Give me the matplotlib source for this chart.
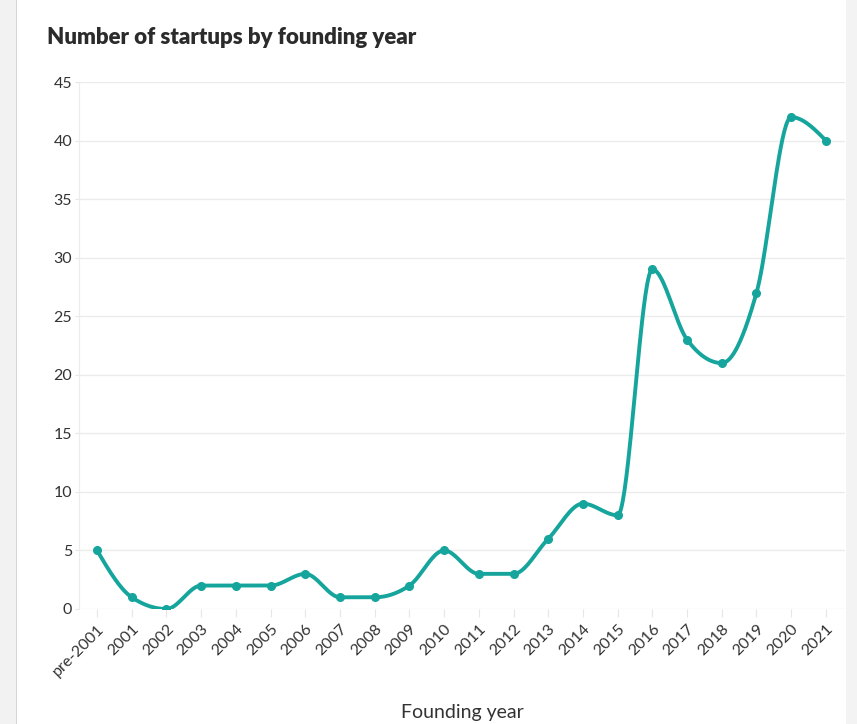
import numpy as np
import matplotlib
matplotlib.use("Agg")
import matplotlib.pyplot as plt
from matplotlib.patches import Rectangle

years = ["pre-2001", "2001", "2002", "2003", "2004", "2005", "2006", "2007",
         "2008", "2009", "2010", "2011", "2012", "2013", "2014", "2015",
         "2016", "2017", "2018", "2019", "2020", "2021"]
startups = [5, 1, 0, 2, 2, 2, 3, 1, 1, 2, 5, 3, 3, 6, 9, 8, 29, 23, 21, 27, 42, 40]
y_ticks = [0, 5, 10, 15, 20, 25, 30, 35, 40, 45]

LINE = "#16a59c"
TEXT = "#333333"


def monotone_curve(x, y, n=40):
    """Steffen-style monotone cubic (like d3.curveMonotoneX)."""
    x = np.asarray(x, dtype=float)
    y = np.asarray(y, dtype=float)
    h = np.diff(x)
    s = np.diff(y) / h
    m = np.zeros_like(y)
    for i in range(1, len(y) - 1):
        p = (s[i - 1] * h[i] + s[i] * h[i - 1]) / (h[i - 1] + h[i])
        m[i] = (np.sign(s[i - 1]) + np.sign(s[i])) * min(abs(s[i - 1]), abs(s[i]), 0.5 * abs(p))
    m[0] = (3 * s[0] - m[1]) / 2 if len(y) > 2 else s[0]
    m[-1] = (3 * s[-1] - m[-2]) / 2 if len(y) > 2 else s[-1]
    xs, ys = [], []
    for i in range(len(h)):
        t = np.linspace(0, 1, n, endpoint=(i == len(h) - 1))
        h00 = 2 * t**3 - 3 * t**2 + 1
        h10 = t**3 - 2 * t**2 + t
        h01 = -2 * t**3 + 3 * t**2
        h11 = t**3 - t**2
        xs.append(x[i] + t * h[i])
        ys.append(h00 * y[i] + h10 * h[i] * m[i] + h01 * y[i + 1] + h11 * h[i] * m[i + 1])
    return np.concatenate(xs), np.concatenate(ys)


plt.rcParams["font.family"] = ["Lato", "DejaVu Sans"]

fig = plt.figure(figsize=(8.57, 7.24), dpi=100)
fig.patch.set_facecolor("white")
# grey frame strips of the screenshot
fig.add_artist(Rectangle((0, 0), 16 / 857, 1, transform=fig.transFigure,
                         facecolor="#f2f2f2", edgecolor="none"))
fig.add_artist(Rectangle((16 / 857, 0), 1.5 / 857, 1, transform=fig.transFigure,
                         facecolor="#d6d6d6", edgecolor="none"))
fig.add_artist(Rectangle((846 / 857, 0), 11 / 857, 1, transform=fig.transFigure,
                         facecolor="#f3f3f3", edgecolor="none"))

ax = fig.add_axes([79 / 857, 115 / 724, 766 / 857, 527 / 724])
x = np.arange(len(years))
cx, cy = monotone_curve(x, startups)
ax.plot(cx, cy, color=LINE, lw=2.8, solid_capstyle="round", zorder=3)
ax.plot(x, startups, "o", color=LINE, ms=5.5, zorder=4)

ax.set_xlim(-0.52, 21.55)
ax.set_ylim(0, 45)
ax.set_yticks(y_ticks)
ax.set_xticks(x)
ax.set_xticklabels(years, rotation=45, ha="right", rotation_mode="anchor")
ax.grid(axis="y", color="#ebebeb", lw=1)
ax.set_axisbelow(True)
for side in ["top", "right", "bottom"]:
    ax.spines[side].set_visible(False)
ax.spines["left"].set_color("#ececec")
ax.tick_params(axis="y", length=3, color="#e6e6e6", labelsize=11.5, labelcolor=TEXT, pad=2)
ax.tick_params(axis="x", length=6, color="#e6e6e6", labelsize=11.5, labelcolor=TEXT, pad=3)
ax.set_xlabel("Founding year", fontsize=14, color=TEXT, labelpad=18)

fig.text(47 / 857, 1 - 38 / 724, "Number of startups by founding year",
         fontsize=16, fontweight="heavy", color="#2b2b2b", va="center", ha="left")

fig.savefig("out.png", dpi=100)
